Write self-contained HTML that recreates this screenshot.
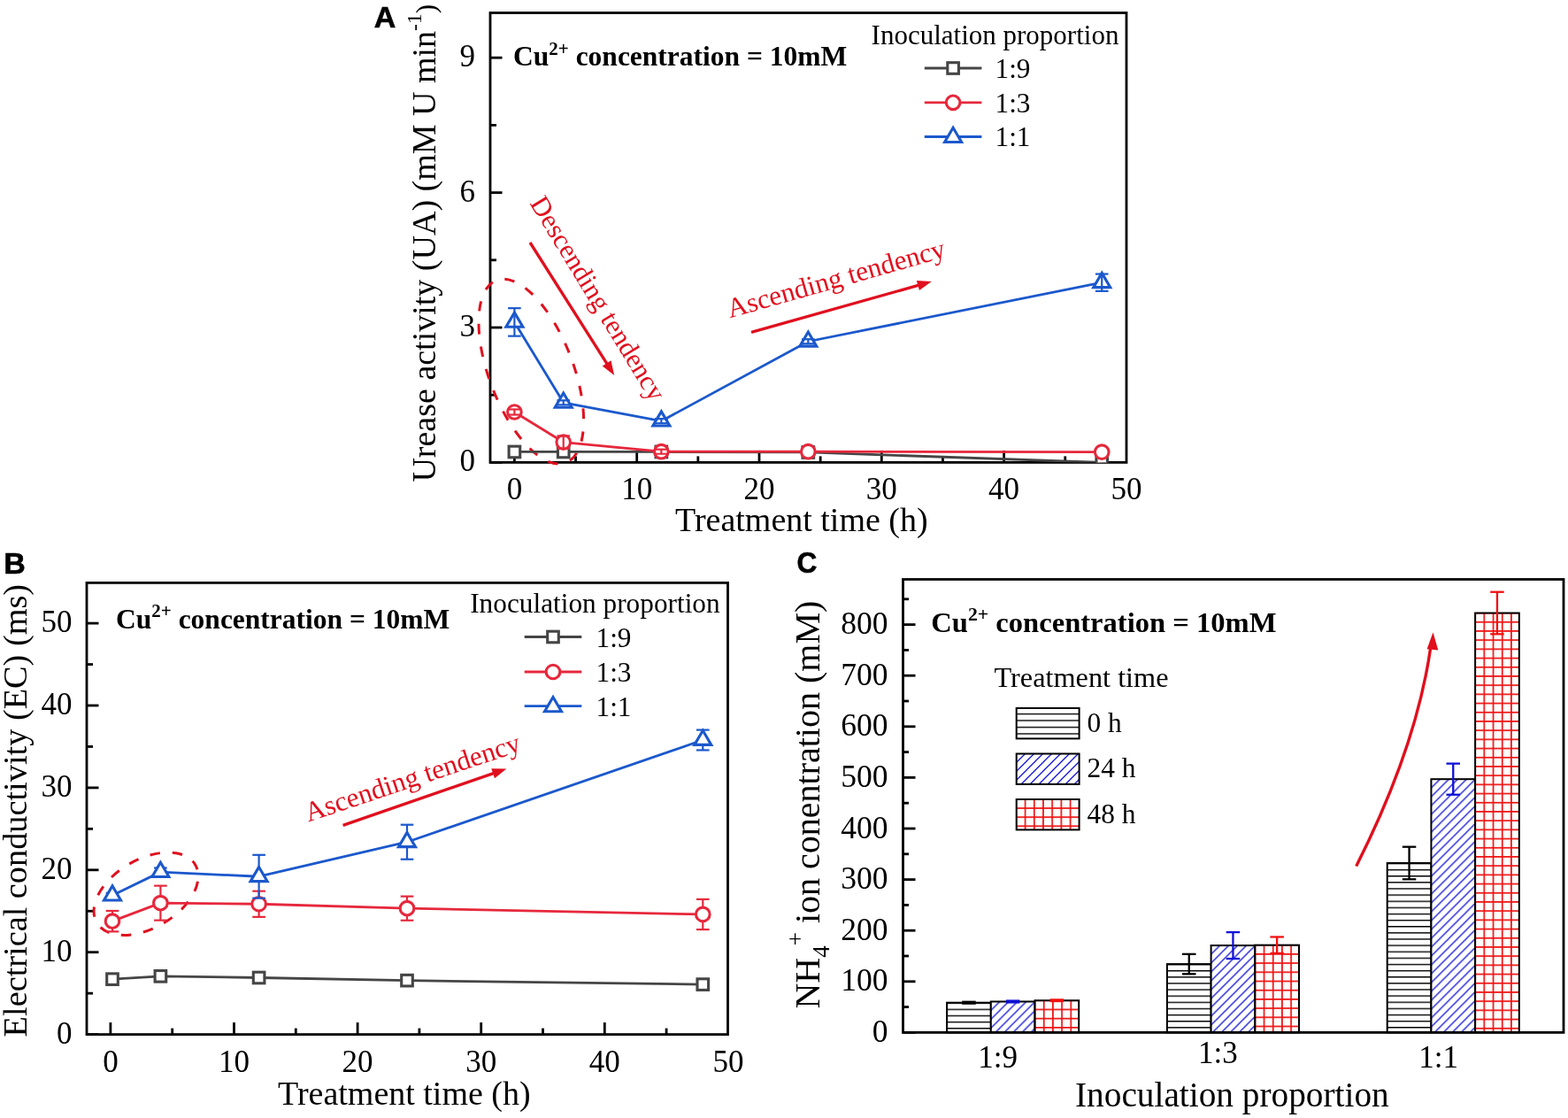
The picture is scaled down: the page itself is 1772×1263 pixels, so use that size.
<!DOCTYPE html>
<html><head><meta charset="utf-8"><title>Figure</title>
<style>html,body{margin:0;padding:0;background:#fff;overflow:hidden}svg{display:block}</style>
</head><body>
<svg width="1772" height="1263" viewBox="0 0 1772 1263">
<defs>
<clipPath id="clipA"><rect x="540" y="0" width="740" height="522.4"/></clipPath>
<pattern id="pH" patternUnits="userSpaceOnUse" x="0" y="2.9" width="20" height="7.125"><rect width="20" height="7.125" fill="#fff"/><rect y="0" width="20" height="1.4" fill="#000"/></pattern>
<pattern id="pD" patternUnits="userSpaceOnUse" x="0" y="0" width="10" height="10"><rect width="10" height="10" fill="#fff"/><path d="M-2.5,2.5 L2.5,-2.5 M-2.5,12.5 L12.5,-2.5 M7.5,12.5 L12.5,7.5" stroke="#1010d8" stroke-width="1.3"/></pattern>
<pattern id="pG" patternUnits="userSpaceOnUse" x="0.3" y="6.3" width="10.2" height="10.2"><rect width="10.2" height="10.2" fill="#fff"/><rect x="0" y="0" width="1.7" height="10.2" fill="#f01010"/><rect x="0" y="0" width="10.2" height="1.7" fill="#f01010"/></pattern>
<pattern id="pHL" patternUnits="userSpaceOnUse" x="0" y="805.8" width="20" height="7.5"><rect width="20" height="7.5" fill="#fff"/><rect y="0" width="20" height="1.4" fill="#000"/></pattern>
<pattern id="pGL" patternUnits="userSpaceOnUse" x="1157.7" y="912.2" width="10.2" height="10.1"><rect width="10.2" height="10.1" fill="#fff"/><rect x="0" y="0" width="1.7" height="10.1" fill="#f01010"/><rect x="0" y="0" width="10.2" height="1.7" fill="#f01010"/></pattern>
<pattern id="pb00" patternUnits="userSpaceOnUse" x="0" y="1132.5" width="20" height="7.125"><rect width="20" height="7.125" fill="#fff"/><rect y="0" width="20" height="1.4" fill="#000"/></pattern>
<pattern id="pb01" patternUnits="userSpaceOnUse" x="1119.8" y="1131.49" width="10" height="10"><rect width="10" height="10" fill="#fff"/><path d="M-2.5,2.5 L2.5,-2.5 M-2.5,12.5 L12.5,-2.5 M7.5,12.5 L12.5,7.5" stroke="#1010d8" stroke-width="1.3"/></pattern>
<pattern id="pb02" patternUnits="userSpaceOnUse" x="1168.65" y="1129.38" width="10.2" height="10.2"><rect width="10.2" height="10.2" fill="#fff"/><rect x="0" y="0" width="1.7" height="10.2" fill="#f01010"/><rect x="0" y="0" width="10.2" height="1.7" fill="#f01010"/></pattern>
<pattern id="pb10" patternUnits="userSpaceOnUse" x="0" y="1088.9" width="20" height="7.125"><rect width="20" height="7.125" fill="#fff"/><rect y="0" width="20" height="1.4" fill="#000"/></pattern>
<pattern id="pb11" patternUnits="userSpaceOnUse" x="1368.6" y="1068.08" width="10" height="10"><rect width="10" height="10" fill="#fff"/><path d="M-2.5,2.5 L2.5,-2.5 M-2.5,12.5 L12.5,-2.5 M7.5,12.5 L12.5,7.5" stroke="#1010d8" stroke-width="1.3"/></pattern>
<pattern id="pb12" patternUnits="userSpaceOnUse" x="1417.45" y="1066.82" width="10.2" height="10.2"><rect width="10.2" height="10.2" fill="#fff"/><rect x="0" y="0" width="1.7" height="10.2" fill="#f01010"/><rect x="0" y="0" width="10.2" height="1.7" fill="#f01010"/></pattern>
<pattern id="pb20" patternUnits="userSpaceOnUse" x="0" y="974.8" width="20" height="7.125"><rect width="20" height="7.125" fill="#fff"/><rect y="0" width="20" height="1.4" fill="#000"/></pattern>
<pattern id="pb21" patternUnits="userSpaceOnUse" x="1617.4" y="880.19" width="10" height="10"><rect width="10" height="10" fill="#fff"/><path d="M-2.5,2.5 L2.5,-2.5 M-2.5,12.5 L12.5,-2.5 M7.5,12.5 L12.5,7.5" stroke="#1010d8" stroke-width="1.3"/></pattern>
<pattern id="pb22" patternUnits="userSpaceOnUse" x="1666.25" y="691.67" width="10.2" height="10.2"><rect width="10.2" height="10.2" fill="#fff"/><rect x="0" y="0" width="1.7" height="10.2" fill="#f01010"/><rect x="0" y="0" width="10.2" height="1.7" fill="#f01010"/></pattern>
</defs>
<rect width="1772" height="1263" fill="#fff"/>
<rect x="554" y="14.5" width="719" height="507.9" fill="none" stroke="#000" stroke-width="2.8"/>
<line x1="581.4" y1="522.4" x2="581.4" y2="508.9" stroke="#000" stroke-width="2.8" />
<line x1="650.55" y1="522.4" x2="650.55" y2="515.4" stroke="#000" stroke-width="2.8" />
<line x1="719.7" y1="522.4" x2="719.7" y2="508.9" stroke="#000" stroke-width="2.8" />
<line x1="788.85" y1="522.4" x2="788.85" y2="515.4" stroke="#000" stroke-width="2.8" />
<line x1="858" y1="522.4" x2="858" y2="508.9" stroke="#000" stroke-width="2.8" />
<line x1="927.15" y1="522.4" x2="927.15" y2="515.4" stroke="#000" stroke-width="2.8" />
<line x1="996.3" y1="522.4" x2="996.3" y2="508.9" stroke="#000" stroke-width="2.8" />
<line x1="1065.45" y1="522.4" x2="1065.45" y2="515.4" stroke="#000" stroke-width="2.8" />
<line x1="1134.6" y1="522.4" x2="1134.6" y2="508.9" stroke="#000" stroke-width="2.8" />
<line x1="1203.75" y1="522.4" x2="1203.75" y2="515.4" stroke="#000" stroke-width="2.8" />
<text x="581.4" y="564" font-family="'Liberation Serif','Times New Roman',serif" font-size="35" fill="#000" text-anchor="middle" >0</text>
<text x="719.7" y="564" font-family="'Liberation Serif','Times New Roman',serif" font-size="35" fill="#000" text-anchor="middle" >10</text>
<text x="858" y="564" font-family="'Liberation Serif','Times New Roman',serif" font-size="35" fill="#000" text-anchor="middle" >20</text>
<text x="996.3" y="564" font-family="'Liberation Serif','Times New Roman',serif" font-size="35" fill="#000" text-anchor="middle" >30</text>
<text x="1134.6" y="564" font-family="'Liberation Serif','Times New Roman',serif" font-size="35" fill="#000" text-anchor="middle" >40</text>
<text x="1272.9" y="564" font-family="'Liberation Serif','Times New Roman',serif" font-size="35" fill="#000" text-anchor="middle" >50</text>
<line x1="554" y1="522.4" x2="567.5" y2="522.4" stroke="#000" stroke-width="2.8" />
<line x1="554" y1="446.2" x2="561" y2="446.2" stroke="#000" stroke-width="2.8" />
<line x1="554" y1="370" x2="567.5" y2="370" stroke="#000" stroke-width="2.8" />
<line x1="554" y1="293.8" x2="561" y2="293.8" stroke="#000" stroke-width="2.8" />
<line x1="554" y1="217.6" x2="567.5" y2="217.6" stroke="#000" stroke-width="2.8" />
<line x1="554" y1="141.4" x2="561" y2="141.4" stroke="#000" stroke-width="2.8" />
<line x1="554" y1="65.2" x2="567.5" y2="65.2" stroke="#000" stroke-width="2.8" />
<text x="537" y="532.4" font-family="'Liberation Serif','Times New Roman',serif" font-size="35" fill="#000" text-anchor="end" >0</text>
<text x="537" y="380" font-family="'Liberation Serif','Times New Roman',serif" font-size="35" fill="#000" text-anchor="end" >3</text>
<text x="537" y="227.6" font-family="'Liberation Serif','Times New Roman',serif" font-size="35" fill="#000" text-anchor="end" >6</text>
<text x="537" y="75.2" font-family="'Liberation Serif','Times New Roman',serif" font-size="35" fill="#000" text-anchor="end" >9</text>
<text x="763" y="600" font-family="'Liberation Serif','Times New Roman',serif" font-size="38" fill="#000" text-anchor="start" >Treatment time (h)</text>
<text transform="translate(492.4 544.6) rotate(-90)" font-family="'Liberation Serif','Times New Roman',serif" font-size="38" fill="#000">Urease activity (UA) (mM U min<tspan font-size="23.5" dy="-16.3">-1</tspan><tspan font-size="31" dy="15.6">)</tspan></text>
<text x="422.8" y="30.8" font-family="'Liberation Sans',Arial,sans-serif" font-size="34" font-weight="bold" fill="#000" stroke="#000" stroke-width="0.6">A</text>
<text x="580" y="74" font-family="'Liberation Serif','Times New Roman',serif" font-size="31.5" font-weight="bold" fill="#000">Cu<tspan font-size="21.01" dy="-12.41">2+</tspan><tspan dy="12.41"> concentration = 10mM</tspan></text>
<text x="984.6" y="49.5" font-family="'Liberation Serif','Times New Roman',serif" font-size="31" fill="#000" text-anchor="start" >Inoculation proportion</text>
<line x1="1044.8" y1="77" x2="1109.4" y2="77" stroke="#454545" stroke-width="2.8" />
<rect x="1070.8" y="70.7" width="12.6" height="12.6" fill="#fff" stroke="#454545" stroke-width="3.1"/>
<text x="1124.5" y="87.9" font-family="'Liberation Serif','Times New Roman',serif" font-size="31.3" fill="#000" text-anchor="start" >1:9</text>
<line x1="1044.8" y1="115.8" x2="1109.4" y2="115.8" stroke="#e6283c" stroke-width="2.8" />
<circle cx="1077.1" cy="115.8" r="7.8" fill="#fff" stroke="#e6283c" stroke-width="3.1"/>
<text x="1124.5" y="126.5" font-family="'Liberation Serif','Times New Roman',serif" font-size="31.3" fill="#000" text-anchor="start" >1:3</text>
<line x1="1044.8" y1="154.5" x2="1109.4" y2="154.5" stroke="#1b58cc" stroke-width="2.8" />
<polygon points="1077.1,144.3 1086.6,160.5 1067.6,160.5" fill="#fff" stroke="#1b58cc" stroke-width="3.1" stroke-linejoin="miter"/>
<text x="1124.5" y="165.3" font-family="'Liberation Serif','Times New Roman',serif" font-size="31.3" fill="#000" text-anchor="start" >1:1</text>
<ellipse cx="600.3" cy="419.6" rx="47.6" ry="110.3" transform="rotate(-20.85 600.3 419.6)" fill="none" stroke="#e0101e" stroke-width="3" stroke-dasharray="11.500 14.291" stroke-dashoffset="16.791"/>
<line x1="599" y1="274" x2="686.69" y2="412.08" stroke="#e0101e" stroke-width="3.3" />
<polygon points="694.2,423.9 680.77,413.48 690.48,407.31" fill="#e0101e"/>
<text transform="translate(598.3 229.5) rotate(58.6)" font-family="'Liberation Serif','Times New Roman',serif" font-size="30.8" fill="#e0101e">Descending tendency</text>
<line x1="849" y1="375.3" x2="1039.32" y2="321.88" stroke="#e0101e" stroke-width="3.3" />
<polygon points="1052.8,318.1 1038.95,327.96 1035.84,316.89" fill="#e0101e"/>
<text transform="translate(825 359.3) rotate(-15.8)" font-family="'Liberation Serif','Times New Roman',serif" font-size="31.3" fill="#e0101e">Ascending tendency</text>
<g clip-path="url(#clipA)">
<polyline points="581.4,510.46 636.72,510.46 747.36,510.46 913.32,510.97 1245.24,522.4" fill="none" stroke="#454545" stroke-width="2.8" stroke-linejoin="round"/>
<rect x="575.1" y="504.16" width="12.6" height="12.6" fill="#fff" stroke="#454545" stroke-width="3.1"/>
<rect x="630.42" y="504.16" width="12.6" height="12.6" fill="#fff" stroke="#454545" stroke-width="3.1"/>
<rect x="741.06" y="504.16" width="12.6" height="12.6" fill="#fff" stroke="#454545" stroke-width="3.1"/>
<rect x="907.02" y="504.67" width="12.6" height="12.6" fill="#fff" stroke="#454545" stroke-width="3.1"/>
<rect x="1238.94" y="516.1" width="12.6" height="12.6" fill="#fff" stroke="#454545" stroke-width="3.1"/>
<polyline points="581.4,465.5 636.72,499.54 747.36,510.21 913.32,510.21 1245.24,510.72" fill="none" stroke="#e6283c" stroke-width="2.8" stroke-linejoin="round"/>
<circle cx="581.4" cy="465.5" r="7.8" fill="#fff" stroke="#e6283c" stroke-width="3.1"/>
<line x1="581.4" y1="462.46" x2="581.4" y2="468.55" stroke="#e6283c" stroke-width="2.2" />
<line x1="574.1" y1="462.46" x2="588.7" y2="462.46" stroke="#e6283c" stroke-width="2.2" />
<line x1="574.1" y1="468.55" x2="588.7" y2="468.55" stroke="#e6283c" stroke-width="2.2" />
<circle cx="636.72" cy="499.54" r="7.8" fill="#fff" stroke="#e6283c" stroke-width="3.1"/>
<line x1="636.72" y1="492.43" x2="636.72" y2="506.65" stroke="#e6283c" stroke-width="2.2" />
<line x1="629.42" y1="492.43" x2="644.02" y2="492.43" stroke="#e6283c" stroke-width="2.2" />
<line x1="629.42" y1="506.65" x2="644.02" y2="506.65" stroke="#e6283c" stroke-width="2.2" />
<circle cx="747.36" cy="510.21" r="7.8" fill="#fff" stroke="#e6283c" stroke-width="3.1"/>
<line x1="747.36" y1="507.67" x2="747.36" y2="512.75" stroke="#e6283c" stroke-width="2.2" />
<line x1="740.06" y1="507.67" x2="754.66" y2="507.67" stroke="#e6283c" stroke-width="2.2" />
<line x1="740.06" y1="512.75" x2="754.66" y2="512.75" stroke="#e6283c" stroke-width="2.2" />
<circle cx="913.32" cy="510.21" r="7.8" fill="#fff" stroke="#e6283c" stroke-width="3.1"/>
<circle cx="1245.24" cy="510.72" r="7.8" fill="#fff" stroke="#e6283c" stroke-width="3.1"/>
<polyline points="581.4,363.9 636.72,454.84 747.36,475.66 913.32,385.75 1245.24,319.2" fill="none" stroke="#1b58cc" stroke-width="2.8" stroke-linejoin="round"/>
<polygon points="581.4,353.1 590.9,369.3 571.9,369.3" fill="#fff" stroke="#1b58cc" stroke-width="3.1" stroke-linejoin="miter"/>
<line x1="581.4" y1="348.16" x2="581.4" y2="379.65" stroke="#1b58cc" stroke-width="2.2" />
<line x1="574.1" y1="348.16" x2="588.7" y2="348.16" stroke="#1b58cc" stroke-width="2.2" />
<line x1="574.1" y1="379.65" x2="588.7" y2="379.65" stroke="#1b58cc" stroke-width="2.2" />
<polygon points="636.72,444.04 646.22,460.24 627.22,460.24" fill="#fff" stroke="#1b58cc" stroke-width="3.1" stroke-linejoin="miter"/>
<line x1="636.72" y1="452.3" x2="636.72" y2="457.38" stroke="#1b58cc" stroke-width="2.2" />
<line x1="629.42" y1="452.3" x2="644.02" y2="452.3" stroke="#1b58cc" stroke-width="2.2" />
<line x1="629.42" y1="457.38" x2="644.02" y2="457.38" stroke="#1b58cc" stroke-width="2.2" />
<polygon points="747.36,464.86 756.86,481.06 737.86,481.06" fill="#fff" stroke="#1b58cc" stroke-width="3.1" stroke-linejoin="miter"/>
<line x1="747.36" y1="473.12" x2="747.36" y2="478.2" stroke="#1b58cc" stroke-width="2.2" />
<line x1="740.06" y1="473.12" x2="754.66" y2="473.12" stroke="#1b58cc" stroke-width="2.2" />
<line x1="740.06" y1="478.2" x2="754.66" y2="478.2" stroke="#1b58cc" stroke-width="2.2" />
<polygon points="913.32,374.95 922.82,391.15 903.82,391.15" fill="#fff" stroke="#1b58cc" stroke-width="3.1" stroke-linejoin="miter"/>
<line x1="913.32" y1="383.21" x2="913.32" y2="388.29" stroke="#1b58cc" stroke-width="2.2" />
<line x1="906.02" y1="383.21" x2="920.62" y2="383.21" stroke="#1b58cc" stroke-width="2.2" />
<line x1="906.02" y1="388.29" x2="920.62" y2="388.29" stroke="#1b58cc" stroke-width="2.2" />
<polygon points="1245.24,308.4 1254.74,324.6 1235.74,324.6" fill="#fff" stroke="#1b58cc" stroke-width="3.1" stroke-linejoin="miter"/>
<line x1="1245.24" y1="309.55" x2="1245.24" y2="328.85" stroke="#1b58cc" stroke-width="2.2" />
<line x1="1237.94" y1="309.55" x2="1252.54" y2="309.55" stroke="#1b58cc" stroke-width="2.2" />
<line x1="1237.94" y1="328.85" x2="1252.54" y2="328.85" stroke="#1b58cc" stroke-width="2.2" />
</g>
<rect x="98" y="658.4" width="724.5" height="510.2" fill="none" stroke="#000" stroke-width="2.8"/>
<line x1="124.9" y1="1168.6" x2="124.9" y2="1155.1" stroke="#000" stroke-width="2.8" />
<line x1="194.7" y1="1168.6" x2="194.7" y2="1161.6" stroke="#000" stroke-width="2.8" />
<line x1="264.5" y1="1168.6" x2="264.5" y2="1155.1" stroke="#000" stroke-width="2.8" />
<line x1="334.3" y1="1168.6" x2="334.3" y2="1161.6" stroke="#000" stroke-width="2.8" />
<line x1="404.1" y1="1168.6" x2="404.1" y2="1155.1" stroke="#000" stroke-width="2.8" />
<line x1="473.9" y1="1168.6" x2="473.9" y2="1161.6" stroke="#000" stroke-width="2.8" />
<line x1="543.7" y1="1168.6" x2="543.7" y2="1155.1" stroke="#000" stroke-width="2.8" />
<line x1="613.5" y1="1168.6" x2="613.5" y2="1161.6" stroke="#000" stroke-width="2.8" />
<line x1="683.3" y1="1168.6" x2="683.3" y2="1155.1" stroke="#000" stroke-width="2.8" />
<line x1="753.1" y1="1168.6" x2="753.1" y2="1161.6" stroke="#000" stroke-width="2.8" />
<text x="124.9" y="1211" font-family="'Liberation Serif','Times New Roman',serif" font-size="35" fill="#000" text-anchor="middle" >0</text>
<text x="264.5" y="1211" font-family="'Liberation Serif','Times New Roman',serif" font-size="35" fill="#000" text-anchor="middle" >10</text>
<text x="404.1" y="1211" font-family="'Liberation Serif','Times New Roman',serif" font-size="35" fill="#000" text-anchor="middle" >20</text>
<text x="543.7" y="1211" font-family="'Liberation Serif','Times New Roman',serif" font-size="35" fill="#000" text-anchor="middle" >30</text>
<text x="683.3" y="1211" font-family="'Liberation Serif','Times New Roman',serif" font-size="35" fill="#000" text-anchor="middle" >40</text>
<text x="822.9" y="1211" font-family="'Liberation Serif','Times New Roman',serif" font-size="35" fill="#000" text-anchor="middle" >50</text>
<line x1="98" y1="1168.6" x2="111.5" y2="1168.6" stroke="#000" stroke-width="2.8" />
<line x1="98" y1="1122.15" x2="105" y2="1122.15" stroke="#000" stroke-width="2.8" />
<line x1="98" y1="1075.7" x2="111.5" y2="1075.7" stroke="#000" stroke-width="2.8" />
<line x1="98" y1="1029.25" x2="105" y2="1029.25" stroke="#000" stroke-width="2.8" />
<line x1="98" y1="982.8" x2="111.5" y2="982.8" stroke="#000" stroke-width="2.8" />
<line x1="98" y1="936.35" x2="105" y2="936.35" stroke="#000" stroke-width="2.8" />
<line x1="98" y1="889.9" x2="111.5" y2="889.9" stroke="#000" stroke-width="2.8" />
<line x1="98" y1="843.45" x2="105" y2="843.45" stroke="#000" stroke-width="2.8" />
<line x1="98" y1="797" x2="111.5" y2="797" stroke="#000" stroke-width="2.8" />
<line x1="98" y1="750.55" x2="105" y2="750.55" stroke="#000" stroke-width="2.8" />
<line x1="98" y1="704.1" x2="111.5" y2="704.1" stroke="#000" stroke-width="2.8" />
<text x="81.5" y="1178.6" font-family="'Liberation Serif','Times New Roman',serif" font-size="35" fill="#000" text-anchor="end" >0</text>
<text x="81.5" y="1085.7" font-family="'Liberation Serif','Times New Roman',serif" font-size="35" fill="#000" text-anchor="end" >10</text>
<text x="81.5" y="992.8" font-family="'Liberation Serif','Times New Roman',serif" font-size="35" fill="#000" text-anchor="end" >20</text>
<text x="81.5" y="899.9" font-family="'Liberation Serif','Times New Roman',serif" font-size="35" fill="#000" text-anchor="end" >30</text>
<text x="81.5" y="807" font-family="'Liberation Serif','Times New Roman',serif" font-size="35" fill="#000" text-anchor="end" >40</text>
<text x="81.5" y="714.1" font-family="'Liberation Serif','Times New Roman',serif" font-size="35" fill="#000" text-anchor="end" >50</text>
<text x="314" y="1248.2" font-family="'Liberation Serif','Times New Roman',serif" font-size="38" fill="#000" text-anchor="start" >Treatment time (h)</text>
<text transform="translate(29.9 1171.4) rotate(-90)" font-family="'Liberation Serif','Times New Roman',serif" font-size="38.3" fill="#000">Electrical conductivity (EC) (ms)</text>
<text x="4.3" y="647.9" font-family="'Liberation Sans',Arial,sans-serif" font-size="34" font-weight="bold" fill="#000" stroke="#000" stroke-width="0.6">B</text>
<text x="131" y="709.9" font-family="'Liberation Serif','Times New Roman',serif" font-size="31.5" font-weight="bold" fill="#000">Cu<tspan font-size="21.01" dy="-12.41">2+</tspan><tspan dy="12.41"> concentration = 10mM</tspan></text>
<text x="531.2" y="692.2" font-family="'Liberation Serif','Times New Roman',serif" font-size="31.3" fill="#000" text-anchor="start" >Inoculation proportion</text>
<line x1="592.7" y1="719.5" x2="657.3" y2="719.5" stroke="#454545" stroke-width="2.8" />
<rect x="618.7" y="713.2" width="12.6" height="12.6" fill="#fff" stroke="#454545" stroke-width="3.1"/>
<text x="673.5" y="730.6" font-family="'Liberation Serif','Times New Roman',serif" font-size="31.3" fill="#000" text-anchor="start" >1:9</text>
<line x1="592.7" y1="759" x2="657.3" y2="759" stroke="#e6283c" stroke-width="2.8" />
<circle cx="625" cy="759" r="7.8" fill="#fff" stroke="#e6283c" stroke-width="3.1"/>
<text x="673.5" y="770" font-family="'Liberation Serif','Times New Roman',serif" font-size="31.3" fill="#000" text-anchor="start" >1:3</text>
<line x1="592.7" y1="797.7" x2="657.3" y2="797.7" stroke="#1b58cc" stroke-width="2.8" />
<polygon points="625,787.5 634.5,803.7 615.5,803.7" fill="#fff" stroke="#1b58cc" stroke-width="3.1" stroke-linejoin="miter"/>
<text x="673.5" y="808.9" font-family="'Liberation Serif','Times New Roman',serif" font-size="31.3" fill="#000" text-anchor="start" >1:1</text>
<ellipse cx="165.05" cy="1009.7" rx="64.55" ry="38.68" transform="rotate(-30.47 165.05 1009.7)" fill="none" stroke="#e0101e" stroke-width="3" stroke-dasharray="11.500 13.840" stroke-dashoffset="5.750"/>
<line x1="387.6" y1="932.4" x2="559.07" y2="873.08" stroke="#e0101e" stroke-width="3.3" />
<polygon points="572.3,868.5 559.06,879.17 555.3,868.3" fill="#e0101e"/>
<text transform="translate(348.6 928.6) rotate(-18.5)" font-family="'Liberation Serif','Times New Roman',serif" font-size="31.3" fill="#e0101e">Ascending tendency</text>
<polyline points="127,1106.17 181.4,1102.83 292.6,1104.5 460,1107.66 794.3,1112.12" fill="none" stroke="#454545" stroke-width="2.8" stroke-linejoin="round"/>
<rect x="120.7" y="1099.87" width="12.6" height="12.6" fill="#fff" stroke="#454545" stroke-width="3.1"/>
<rect x="175.1" y="1096.53" width="12.6" height="12.6" fill="#fff" stroke="#454545" stroke-width="3.1"/>
<rect x="286.3" y="1098.2" width="12.6" height="12.6" fill="#fff" stroke="#454545" stroke-width="3.1"/>
<rect x="453.7" y="1101.36" width="12.6" height="12.6" fill="#fff" stroke="#454545" stroke-width="3.1"/>
<rect x="788" y="1105.82" width="12.6" height="12.6" fill="#fff" stroke="#454545" stroke-width="3.1"/>
<polyline points="127,1040.68 181.4,1020.15 292.6,1021.26 460,1026.18 794.3,1032.97" fill="none" stroke="#e6283c" stroke-width="2.8" stroke-linejoin="round"/>
<line x1="127" y1="1028.97" x2="127" y2="1052.38" stroke="#e6283c" stroke-width="2.2" />
<line x1="119.7" y1="1028.97" x2="134.3" y2="1028.97" stroke="#e6283c" stroke-width="2.2" />
<line x1="119.7" y1="1052.38" x2="134.3" y2="1052.38" stroke="#e6283c" stroke-width="2.2" />
<circle cx="127" cy="1040.68" r="7.8" fill="#fff" stroke="#e6283c" stroke-width="3.1"/>
<line x1="181.4" y1="1000.64" x2="181.4" y2="1039.65" stroke="#e6283c" stroke-width="2.2" />
<line x1="174.1" y1="1000.64" x2="188.7" y2="1000.64" stroke="#e6283c" stroke-width="2.2" />
<line x1="174.1" y1="1039.65" x2="188.7" y2="1039.65" stroke="#e6283c" stroke-width="2.2" />
<circle cx="181.4" cy="1020.15" r="7.8" fill="#fff" stroke="#e6283c" stroke-width="3.1"/>
<line x1="292.6" y1="1006.68" x2="292.6" y2="1035.85" stroke="#e6283c" stroke-width="2.2" />
<line x1="285.3" y1="1006.68" x2="299.9" y2="1006.68" stroke="#e6283c" stroke-width="2.2" />
<line x1="285.3" y1="1035.85" x2="299.9" y2="1035.85" stroke="#e6283c" stroke-width="2.2" />
<circle cx="292.6" cy="1021.26" r="7.8" fill="#fff" stroke="#e6283c" stroke-width="3.1"/>
<line x1="460" y1="1012.62" x2="460" y2="1039.75" stroke="#e6283c" stroke-width="2.2" />
<line x1="452.7" y1="1012.62" x2="467.3" y2="1012.62" stroke="#e6283c" stroke-width="2.2" />
<line x1="452.7" y1="1039.75" x2="467.3" y2="1039.75" stroke="#e6283c" stroke-width="2.2" />
<circle cx="460" cy="1026.18" r="7.8" fill="#fff" stroke="#e6283c" stroke-width="3.1"/>
<line x1="794.3" y1="1015.87" x2="794.3" y2="1050.06" stroke="#e6283c" stroke-width="2.2" />
<line x1="787" y1="1015.87" x2="801.6" y2="1015.87" stroke="#e6283c" stroke-width="2.2" />
<line x1="787" y1="1050.06" x2="801.6" y2="1050.06" stroke="#e6283c" stroke-width="2.2" />
<circle cx="794.3" cy="1032.97" r="7.8" fill="#fff" stroke="#e6283c" stroke-width="3.1"/>
<polyline points="127,1011.6 181.4,985.12 292.6,990.23 460,951.21 794.3,836.02" fill="none" stroke="#1b58cc" stroke-width="2.8" stroke-linejoin="round"/>
<line x1="127" y1="1008.81" x2="127" y2="1014.39" stroke="#1b58cc" stroke-width="2.2" />
<line x1="119.7" y1="1008.81" x2="134.3" y2="1008.81" stroke="#1b58cc" stroke-width="2.2" />
<line x1="119.7" y1="1014.39" x2="134.3" y2="1014.39" stroke="#1b58cc" stroke-width="2.2" />
<polygon points="127,1000.8 136.5,1017 117.5,1017" fill="#fff" stroke="#1b58cc" stroke-width="3.1" stroke-linejoin="miter"/>
<line x1="181.4" y1="980.48" x2="181.4" y2="989.77" stroke="#1b58cc" stroke-width="2.2" />
<line x1="174.1" y1="980.48" x2="188.7" y2="980.48" stroke="#1b58cc" stroke-width="2.2" />
<line x1="174.1" y1="989.77" x2="188.7" y2="989.77" stroke="#1b58cc" stroke-width="2.2" />
<polygon points="181.4,974.32 190.9,990.52 171.9,990.52" fill="#fff" stroke="#1b58cc" stroke-width="3.1" stroke-linejoin="miter"/>
<line x1="292.6" y1="965.8" x2="292.6" y2="1014.66" stroke="#1b58cc" stroke-width="2.2" />
<line x1="285.3" y1="965.8" x2="299.9" y2="965.8" stroke="#1b58cc" stroke-width="2.2" />
<line x1="285.3" y1="1014.66" x2="299.9" y2="1014.66" stroke="#1b58cc" stroke-width="2.2" />
<polygon points="292.6,979.43 302.1,995.63 283.1,995.63" fill="#fff" stroke="#1b58cc" stroke-width="3.1" stroke-linejoin="miter"/>
<line x1="460" y1="931.7" x2="460" y2="970.72" stroke="#1b58cc" stroke-width="2.2" />
<line x1="452.7" y1="931.7" x2="467.3" y2="931.7" stroke="#1b58cc" stroke-width="2.2" />
<line x1="452.7" y1="970.72" x2="467.3" y2="970.72" stroke="#1b58cc" stroke-width="2.2" />
<polygon points="460,940.41 469.5,956.61 450.5,956.61" fill="#fff" stroke="#1b58cc" stroke-width="3.1" stroke-linejoin="miter"/>
<line x1="794.3" y1="824.59" x2="794.3" y2="847.44" stroke="#1b58cc" stroke-width="2.2" />
<line x1="787" y1="824.59" x2="801.6" y2="824.59" stroke="#1b58cc" stroke-width="2.2" />
<line x1="787" y1="847.44" x2="801.6" y2="847.44" stroke="#1b58cc" stroke-width="2.2" />
<polygon points="794.3,825.22 803.8,841.42 784.8,841.42" fill="#fff" stroke="#1b58cc" stroke-width="3.1" stroke-linejoin="miter"/>
<rect x="1070.1" y="1132.7" width="49.7" height="33.7" fill="#fff"/>
<rect x="1070.1" y="1132.7" width="49.7" height="33.7" fill="url(#pb00)" stroke="#000" stroke-width="2"/>
<rect x="1119.8" y="1131.49" width="49.7" height="34.91" fill="#fff"/>
<rect x="1119.8" y="1131.49" width="49.7" height="34.91" fill="url(#pb01)" stroke="#000" stroke-width="2"/>
<rect x="1169.5" y="1130.23" width="49.7" height="36.17" fill="#fff"/>
<rect x="1169.5" y="1130.23" width="49.7" height="36.17" fill="url(#pb02)" stroke="#000" stroke-width="2"/>
<line x1="1094.95" y1="1131.78" x2="1094.95" y2="1133.63" stroke="#000" stroke-width="2.3" />
<line x1="1087.2" y1="1131.78" x2="1102.7" y2="1131.78" stroke="#000" stroke-width="2.3" />
<line x1="1087.2" y1="1133.63" x2="1102.7" y2="1133.63" stroke="#000" stroke-width="2.3" />
<line x1="1144.65" y1="1130.57" x2="1144.65" y2="1132.42" stroke="#1010d8" stroke-width="2.3" />
<line x1="1136.9" y1="1130.57" x2="1152.4" y2="1130.57" stroke="#1010d8" stroke-width="2.3" />
<line x1="1136.9" y1="1132.42" x2="1152.4" y2="1132.42" stroke="#1010d8" stroke-width="2.3" />
<line x1="1194.35" y1="1129.42" x2="1194.35" y2="1131.03" stroke="#f01010" stroke-width="2.3" />
<line x1="1186.6" y1="1129.42" x2="1202.1" y2="1129.42" stroke="#f01010" stroke-width="2.3" />
<line x1="1186.6" y1="1131.03" x2="1202.1" y2="1131.03" stroke="#f01010" stroke-width="2.3" />
<rect x="1318.9" y="1089.1" width="49.7" height="77.3" fill="#fff"/>
<rect x="1318.9" y="1089.1" width="49.7" height="77.3" fill="url(#pb10)" stroke="#000" stroke-width="2"/>
<rect x="1368.6" y="1068.08" width="49.7" height="98.32" fill="#fff"/>
<rect x="1368.6" y="1068.08" width="49.7" height="98.32" fill="url(#pb11)" stroke="#000" stroke-width="2"/>
<rect x="1418.3" y="1067.67" width="49.7" height="98.73" fill="#fff"/>
<rect x="1418.3" y="1067.67" width="49.7" height="98.73" fill="url(#pb12)" stroke="#000" stroke-width="2"/>
<line x1="1343.75" y1="1077.87" x2="1343.75" y2="1100.33" stroke="#000" stroke-width="2.3" />
<line x1="1336" y1="1077.87" x2="1351.5" y2="1077.87" stroke="#000" stroke-width="2.3" />
<line x1="1336" y1="1100.33" x2="1351.5" y2="1100.33" stroke="#000" stroke-width="2.3" />
<line x1="1393.45" y1="1053.1" x2="1393.45" y2="1083.05" stroke="#1010d8" stroke-width="2.3" />
<line x1="1385.7" y1="1053.1" x2="1401.2" y2="1053.1" stroke="#1010d8" stroke-width="2.3" />
<line x1="1385.7" y1="1083.05" x2="1401.2" y2="1083.05" stroke="#1010d8" stroke-width="2.3" />
<line x1="1443.15" y1="1058.46" x2="1443.15" y2="1076.89" stroke="#f01010" stroke-width="2.3" />
<line x1="1435.4" y1="1058.46" x2="1450.9" y2="1058.46" stroke="#f01010" stroke-width="2.3" />
<line x1="1435.4" y1="1076.89" x2="1450.9" y2="1076.89" stroke="#f01010" stroke-width="2.3" />
<rect x="1567.7" y="975" width="49.7" height="191.4" fill="#fff"/>
<rect x="1567.7" y="975" width="49.7" height="191.4" fill="url(#pb20)" stroke="#000" stroke-width="2"/>
<rect x="1617.4" y="880.19" width="49.7" height="286.21" fill="#fff"/>
<rect x="1617.4" y="880.19" width="49.7" height="286.21" fill="url(#pb21)" stroke="#000" stroke-width="2"/>
<rect x="1667.1" y="692.52" width="49.7" height="473.88" fill="#fff"/>
<rect x="1667.1" y="692.52" width="49.7" height="473.88" fill="url(#pb22)" stroke="#000" stroke-width="2"/>
<line x1="1592.55" y1="956.68" x2="1592.55" y2="993.31" stroke="#000" stroke-width="2.3" />
<line x1="1584.8" y1="956.68" x2="1600.3" y2="956.68" stroke="#000" stroke-width="2.3" />
<line x1="1584.8" y1="993.31" x2="1600.3" y2="993.31" stroke="#000" stroke-width="2.3" />
<line x1="1642.25" y1="862.62" x2="1642.25" y2="897.75" stroke="#1010d8" stroke-width="2.3" />
<line x1="1634.5" y1="862.62" x2="1650" y2="862.62" stroke="#1010d8" stroke-width="2.3" />
<line x1="1634.5" y1="897.75" x2="1650" y2="897.75" stroke="#1010d8" stroke-width="2.3" />
<line x1="1691.95" y1="668.74" x2="1691.95" y2="716.31" stroke="#f01010" stroke-width="2.3" />
<line x1="1684.2" y1="668.74" x2="1699.7" y2="668.74" stroke="#f01010" stroke-width="2.3" />
<line x1="1684.2" y1="716.31" x2="1699.7" y2="716.31" stroke="#f01010" stroke-width="2.3" />
<rect x="1020.5" y="654.5" width="746.5" height="511.9" fill="none" stroke="#000" stroke-width="2.8"/>
<line x1="1020.5" y1="1166.4" x2="1034.5" y2="1166.4" stroke="#000" stroke-width="2.8" />
<line x1="1020.5" y1="1137.6" x2="1027" y2="1137.6" stroke="#000" stroke-width="2.8" />
<line x1="1020.5" y1="1108.8" x2="1034.5" y2="1108.8" stroke="#000" stroke-width="2.8" />
<line x1="1020.5" y1="1080" x2="1027" y2="1080" stroke="#000" stroke-width="2.8" />
<line x1="1020.5" y1="1051.2" x2="1034.5" y2="1051.2" stroke="#000" stroke-width="2.8" />
<line x1="1020.5" y1="1022.4" x2="1027" y2="1022.4" stroke="#000" stroke-width="2.8" />
<line x1="1020.5" y1="993.6" x2="1034.5" y2="993.6" stroke="#000" stroke-width="2.8" />
<line x1="1020.5" y1="964.8" x2="1027" y2="964.8" stroke="#000" stroke-width="2.8" />
<line x1="1020.5" y1="936" x2="1034.5" y2="936" stroke="#000" stroke-width="2.8" />
<line x1="1020.5" y1="907.2" x2="1027" y2="907.2" stroke="#000" stroke-width="2.8" />
<line x1="1020.5" y1="878.4" x2="1034.5" y2="878.4" stroke="#000" stroke-width="2.8" />
<line x1="1020.5" y1="849.6" x2="1027" y2="849.6" stroke="#000" stroke-width="2.8" />
<line x1="1020.5" y1="820.8" x2="1034.5" y2="820.8" stroke="#000" stroke-width="2.8" />
<line x1="1020.5" y1="792" x2="1027" y2="792" stroke="#000" stroke-width="2.8" />
<line x1="1020.5" y1="763.2" x2="1034.5" y2="763.2" stroke="#000" stroke-width="2.8" />
<line x1="1020.5" y1="734.4" x2="1027" y2="734.4" stroke="#000" stroke-width="2.8" />
<line x1="1020.5" y1="705.6" x2="1034.5" y2="705.6" stroke="#000" stroke-width="2.8" />
<line x1="1020.5" y1="676.8" x2="1027" y2="676.8" stroke="#000" stroke-width="2.8" />
<text x="1003.5" y="1176.9" font-family="'Liberation Serif','Times New Roman',serif" font-size="35.5" fill="#000" text-anchor="end" >0</text>
<text x="1003.5" y="1119.3" font-family="'Liberation Serif','Times New Roman',serif" font-size="35.5" fill="#000" text-anchor="end" >100</text>
<text x="1003.5" y="1061.7" font-family="'Liberation Serif','Times New Roman',serif" font-size="35.5" fill="#000" text-anchor="end" >200</text>
<text x="1003.5" y="1004.1" font-family="'Liberation Serif','Times New Roman',serif" font-size="35.5" fill="#000" text-anchor="end" >300</text>
<text x="1003.5" y="946.5" font-family="'Liberation Serif','Times New Roman',serif" font-size="35.5" fill="#000" text-anchor="end" >400</text>
<text x="1003.5" y="888.9" font-family="'Liberation Serif','Times New Roman',serif" font-size="35.5" fill="#000" text-anchor="end" >500</text>
<text x="1003.5" y="831.3" font-family="'Liberation Serif','Times New Roman',serif" font-size="35.5" fill="#000" text-anchor="end" >600</text>
<text x="1003.5" y="773.7" font-family="'Liberation Serif','Times New Roman',serif" font-size="35.5" fill="#000" text-anchor="end" >700</text>
<text x="1003.5" y="716.1" font-family="'Liberation Serif','Times New Roman',serif" font-size="35.5" fill="#000" text-anchor="end" >800</text>
<text x="1127.6" y="1205.5" font-family="'Liberation Serif','Times New Roman',serif" font-size="35" fill="#000" text-anchor="middle" >1:9</text>
<text x="1376.3" y="1201.3" font-family="'Liberation Serif','Times New Roman',serif" font-size="35" fill="#000" text-anchor="middle" >1:3</text>
<text x="1625.6" y="1206.2" font-family="'Liberation Serif','Times New Roman',serif" font-size="35" fill="#000" text-anchor="middle" >1:1</text>
<text x="1215" y="1250.1" font-family="'Liberation Serif','Times New Roman',serif" font-size="39.3" fill="#000" text-anchor="start" >Inoculation proportion</text>
<text transform="translate(925.6 1139.6) rotate(-90)" font-family="'Liberation Serif','Times New Roman',serif" font-size="40" fill="#000">NH<tspan font-size="27" dy="11">4</tspan><tspan font-size="27" dy="-29">+</tspan><tspan dy="18"> ion conentration (mM)</tspan></text>
<text x="900.5" y="647.2" font-family="'Liberation Sans',Arial,sans-serif" font-size="34" font-weight="bold" fill="#000" stroke="#000" stroke-width="0.6" transform="translate(900.5 0) scale(0.93 1) translate(-900.5 0)">C</text>
<text x="1052.3" y="714.1" font-family="'Liberation Serif','Times New Roman',serif" font-size="32.6" font-weight="bold" fill="#000">Cu<tspan font-size="21.74" dy="-12.84">2+</tspan><tspan dy="12.84"> concentration = 10mM</tspan></text>
<text x="1123.5" y="776.3" font-family="'Liberation Serif','Times New Roman',serif" font-size="32.3" fill="#000" text-anchor="start" >Treatment time</text>
<rect x="1148.7" y="800" width="70.9" height="34.4" fill="url(#pHL)" stroke="#000" stroke-width="2"/>
<text x="1228.5" y="826.8" font-family="'Liberation Serif','Times New Roman',serif" font-size="31.4" fill="#000" text-anchor="start" >0 h</text>
<rect x="1148.7" y="851.5" width="70.9" height="34.4" fill="url(#pD)" stroke="#000" stroke-width="2"/>
<text x="1228.5" y="878.3" font-family="'Liberation Serif','Times New Roman',serif" font-size="31.4" fill="#000" text-anchor="start" >24 h</text>
<rect x="1148.7" y="903" width="70.9" height="34.4" fill="url(#pGL)" stroke="#000" stroke-width="2"/>
<text x="1228.5" y="929.8" font-family="'Liberation Serif','Times New Roman',serif" font-size="31.4" fill="#000" text-anchor="start" >48 h</text>
<path d="M1532.7,978.5 Q1600.2,844.8 1616.5,733" fill="none" stroke="#e0101e" stroke-width="3.4"/>
<polygon points="1619.5,714.3 1625.3,734.5 1612.6,733.2" fill="#e0101e"/>
</svg>
</body></html>
